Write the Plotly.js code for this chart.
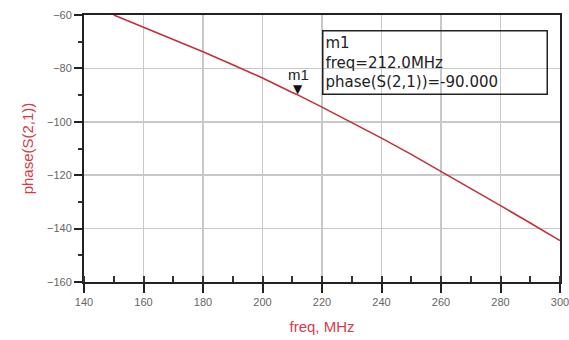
<!DOCTYPE html>
<html>
<head>
<meta charset="utf-8">
<script src="https://cdn.plot.ly/plotly-3.0.1.min.js"></script>
<style>html,body{margin:0;padding:0;background:#fff;}#chart{width:569px;height:340px;}</style>
</head>
<body>
<div id="chart"></div>
<script>
// Data
const freq = [150, 160, 170, 180, 190, 200, 210, 212, 220, 230, 240, 250, 260, 270, 280, 290, 300];
const phase = [-60, -64.5, -69.1, -73.8, -78.6, -83.6, -89.0, -90, -94.5, -100.2, -106.1, -112.2, -118.5, -124.9, -131.4, -137.9, -144.5];
const markerFreq = 212.0;
const markerPhase = -90.0;
const markerName = 'm1';
const xTitle = 'freq, MHz';
const yTitle = 'phase(S(2,1))';

const red = '#d83a4a';
const axisFont = {family: 'Liberation Sans, Arial, sans-serif', size: 11, color: '#666'};

const trace = {
  x: freq, y: phase, type: 'scatter', mode: 'lines',
  line: {color: '#c0303e', width: 1.6}, hoverinfo: 'skip'
};

const layout = {
  width: 569, height: 340,
  margin: {l: 84, r: 9, t: 15, b: 58},
  paper_bgcolor: '#fff', plot_bgcolor: '#fff',
  showlegend: false,
  xaxis: {
    range: [140, 300], dtick: 20, tick0: 140,
    showgrid: true, gridcolor: '#c8c8c8', gridwidth: 1.5,
    showline: true, linecolor: '#222', linewidth: 2, mirror: true,
    ticks: 'outside', ticklen: 9, tickwidth: 2, tickcolor: '#222',
    minor: {dtick: 10, ticks: 'inside', ticklen: 6, tickwidth: 2, tickcolor: '#333', showgrid: false},
    tickfont: axisFont, zeroline: false, ticklabeloverflow: 'allow',
    title: {text: xTitle, font: {family: 'Liberation Sans, Arial, sans-serif', size: 15, color: red}, standoff: 14}
  },
  yaxis: {
    range: [-160, -60], dtick: 20, tick0: -160,
    showgrid: true, gridcolor: '#c8c8c8', gridwidth: 1.5,
    showline: true, linecolor: '#222', linewidth: 2, mirror: true,
    ticks: 'outside', ticklen: 8, tickwidth: 2, tickcolor: '#222',
    minor: {dtick: 10, ticks: 'outside', ticklen: 4, tickwidth: 2, tickcolor: '#333', showgrid: false},
    tickfont: axisFont, zeroline: false,
    title: {text: yTitle, font: {family: 'Liberation Sans, Arial, sans-serif', size: 15, color: red}, standoff: 10}
  },
  annotations: [
    {x: markerFreq, y: markerPhase, xref: 'x', yref: 'y', text: '▼', showarrow: false,
     xanchor: 'center', yanchor: 'bottom', yshift: -3, font: {family: 'DejaVu Sans', size: 12, color: '#111'}},
    {x: markerFreq, y: markerPhase, xref: 'x', yref: 'y', text: markerName, showarrow: false,
     xanchor: 'center', yanchor: 'bottom', yshift: 10, font: {family: 'Liberation Sans, Arial, sans-serif', size: 15, color: '#222'}},
    {x: 0.5, y: 0.944, xref: 'paper', yref: 'paper', xanchor: 'left', yanchor: 'top',
     text: markerName + '<br>freq=' + markerFreq.toFixed(1) + 'MHz<br>' + yTitle + '=' + markerPhase.toFixed(3),
     showarrow: false, align: 'left', bordercolor: '#222', borderwidth: 1.5, borderpad: 2,
     bgcolor: 'rgba(255,255,255,0)', width: 219, height: 58,
     font: {family: 'DejaVu Sans, sans-serif', size: 15, color: '#222'}}
  ]
};

Plotly.newPlot('chart', [trace], layout, {displayModeBar: false, staticPlot: true});
</script>
</body>
</html>
